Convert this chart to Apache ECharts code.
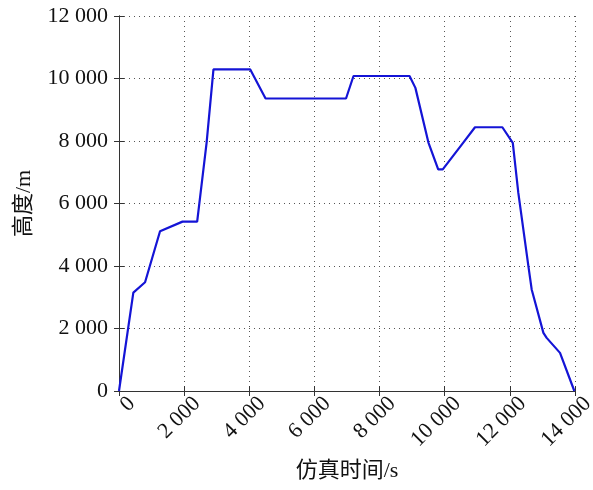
<!DOCTYPE html>
<html><head><meta charset="utf-8">
<script src="https://cdn.jsdelivr.net/npm/echarts@6/dist/echarts.min.js"></script>
<style>html,body{margin:0;padding:0;background:#fff}#c{width:593px;height:490px}</style>
</head><body><div id="c"></div>
<script>
const timeS = [0, 440, 800, 1260, 1950, 2400, 2690, 2900, 4030, 4500, 6970, 7200, 8920, 9100, 9500, 9800, 9940, 10570, 10930, 11770, 12090, 12260, 12570, 12670, 13030, 13130, 13540, 13980];
const heightM = [0, 3150, 3480, 5110, 5420, 5420, 7950, 10290, 10290, 9360, 9360, 10080, 10080, 9700, 7950, 7090, 7090, 7950, 8440, 8440, 7940, 6340, 3990, 3250, 1860, 1700, 1220, 0];
const xTicks = [0, 2000, 4000, 6000, 8000, 10000, 12000, 14000];
const yTicks = [0, 2000, 4000, 6000, 8000, 10000, 12000];
const xName = '仿真时间/s';
const yName = '高度/m';

const fmt = v => v === 0 ? '0' : String(v).replace(/\B(?=(\d{3})+(?!\d))/g, ' ');
const serif = '"Liberation Serif", "Noto Sans CJK SC", serif';
const frame = {show: true, lineStyle: {color: '#333', width: 1}};
const tick = {show: true, inside: true, length: 5, lineStyle: {color: '#333'}};
const grid = {show: true, lineStyle: {color: '#555', type: [1, 4], width: 1}};

const chart = echarts.init(document.getElementById('c'));
chart.setOption({
  animation: false,
  grid: {left: 119, right: 18, top: 16, bottom: 99, containLabel: false, outerBoundsMode: 'none'},
  xAxis: [{
    type: 'value', min: 0, max: 14000, interval: 2000, position: 'bottom',
    axisLine: frame, axisTick: tick, splitLine: grid,
    axisLabel: {rotate: 45, fontFamily: serif, fontSize: 22, color: '#111', margin: 22,
      padding: [0, -18, 0, 0], formatter: fmt},
    name: xName, nameLocation: 'middle', nameGap: 69,
    nameTextStyle: {fontFamily: serif, fontSize: 22, color: '#111'}
  }, {
    type: 'value', min: 0, max: 14000, interval: 2000, position: 'top',
    axisLine: frame, axisTick: tick, splitLine: {show: false}, axisLabel: {show: false}
  }],
  yAxis: [{
    type: 'value', min: 0, max: 12000, interval: 2000, position: 'left',
    axisLine: frame, axisTick: tick, splitLine: grid,
    axisLabel: {fontFamily: serif, fontSize: 22, color: '#111', margin: 11, formatter: fmt},
    name: yName, nameLocation: 'middle', nameGap: 84, nameRotate: 90,
    nameTextStyle: {fontFamily: serif, fontSize: 22, color: '#111'}
  }, {
    type: 'value', min: 0, max: 12000, interval: 2000, position: 'right',
    axisLine: frame, axisTick: tick, splitLine: {show: false}, axisLabel: {show: false}
  }],
  series: [{
    type: 'line', xAxisIndex: 0, yAxisIndex: 0,
    data: timeS.map((t, i) => [t, heightM[i]]),
    showSymbol: false, lineStyle: {color: '#1414d6', width: 2.2}
  }]
});
</script></body></html>
